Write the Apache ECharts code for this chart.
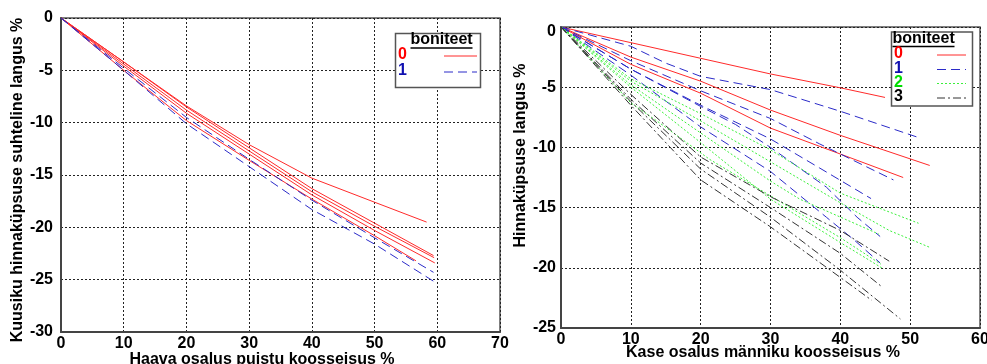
<!DOCTYPE html>
<html><head><meta charset="utf-8">
<script src="https://cdn.jsdelivr.net/npm/echarts@6/dist/echarts.min.js"></script>
<style>html,body{margin:0;padding:0;background:#fff}#c{width:987px;height:364px}</style>
</head><body><div id="c"></div>
<script>
// ---- Left chart: Haava osalus (x) vs Kuusiku hinnaküpsuse suhteline langus (y)
const leftXTicks = [0,10,20,30,40,50,60,70];
const leftYTicks = [-30,-25,-20,-15,-10,-5,0];
const haavaB0a = [[0,0],[10,-4.2],[20,-8.4],[30,-12.1],[40,-15.3],[50,-17.6],[58.3,-19.5]];
const haavaB0b = [[0,0],[10,-4.2],[20,-8.5],[30,-12.4],[40,-16.3],[50,-19.6],[59.4,-22.7]];
const haavaB0c = [[0,0],[10,-4.4],[20,-8.8],[30,-12.7],[40,-16.6],[50,-19.9],[59.5,-22.9]];
const haavaB0d = [[0,0],[10,-4.6],[20,-9.1],[30,-13.0],[40,-16.9],[50,-20.3],[59.6,-23.4]];
const haavaB0e = [[0,0],[10,-5.0],[20,-9.8],[30,-13.6],[40,-17.3],[50,-20.8],[56.6,-23.2]];
const haavaB1a = [[0,0],[10,-4.8],[20,-9.5],[30,-13.5],[40,-17.4],[50,-21.0],[59.4,-24.3]];
const haavaB1b = [[0,0],[10,-5.0],[20,-10.1],[30,-14.2],[40,-18.3],[50,-21.6],[59.8,-25.3]];

// ---- Right chart: Kase osalus (x) vs Hinnaküpsuse langus (y)
const rightXTicks = [0,10,20,30,40,50,60];
const rightYTicks = [-25,-20,-15,-10,-5,0];
const kaseB0a = [[0,0],[10,-1.3],[20,-2.6],[30,-3.9],[40,-5.05],[46.4,-5.85]];
const kaseB0b = [[0,0],[10,-2.5],[20,-4.5],[30,-6.9],[40,-9.0],[52.8,-11.5]];
const kaseB0c = [[0,0],[10,-3.1],[20,-5.5],[30,-8.4],[40,-10.55],[49.0,-12.5]];
const kaseB1a = [[0,0],[10,-1.6],[15,-3.0],[20,-4.1],[30,-5.2],[40,-7.0],[51.3,-9.2]];
const kaseB1b = [[0,0],[10,-2.8],[20,-5.3],[30,-7.6],[37,-9.7],[47.6,-12.7]];
const kaseB1c = [[0,0],[10,-3.5],[20,-6.5],[30,-9.3],[37,-11.7],[44.4,-14.25]];
const kaseB1d = [[0,0],[10,-3.5],[20,-6.6],[25,-8.1],[30,-10.0],[38,-13.3],[42.4,-15.8],[45.7,-17.4]];
const kaseB1e = [[0,0],[10,-4.0],[20,-8.3],[30,-12.0],[38,-15.8],[42,-17.7],[45.7,-19.6]];
const kaseB2a = [[0,0],[10,-4.3],[20,-7.2],[30,-10.2],[40,-13.8],[51.2,-16.3]];
const kaseB2b = [[0,0],[10,-4.5],[20,-7.8],[30,-11.2],[40,-14.6],[47,-16.9],[52.8,-18.3]];
const kaseB2c = [[0,0],[10,-4.8],[20,-8.8],[30,-12.8],[34.2,-14.3],[45.5,-17.2]];
const kaseB2d = [[0,0],[10,-5.0],[20,-9.6],[30,-14.3],[40,-17.9],[46.2,-20.1]];
const kaseB2e = [[0,0],[10,-6.3],[14.2,-8.0],[21.3,-11.0],[32.8,-15.0],[40,-17.5],[45.8,-19.7]];
const kaseB3a = [[0,0],[10,-5.6],[20,-10.8],[30,-14.1],[40,-16.9],[47.0,-19.45]];
const kaseB3b = [[0,0],[10,-6.0],[20,-11.3],[30,-15.0],[40,-18.8],[46.0,-21.6]];
const kaseB3c = [[0,0],[10,-6.2],[20,-11.8],[30,-15.8],[40,-20.2],[48.6,-24.25]];
const kaseB3d = [[0,0],[10,-6.5],[20,-12.7],[30,-16.6],[40,-20.8],[44.5,-22.7]];

const legendLabels = ['0','1','2','3'];
const legendTitle = 'boniteet';

const COL = {0:'#ff2a2a',1:'#2b2bc8',2:'#3cf03c',3:'#333333'};
const DASH = {0:'solid',1:[9,5],2:[2,2],3:[8,3,2,3]};
const TXT = {0:'#ff0000',1:'#1010b0',2:'#00dd00',3:'#000000'};

function mk(data, b, gi){
  return {type:'line', data:data, xAxisIndex:gi, yAxisIndex:gi, showSymbol:false, symbol:'none',
    silent:true, animation:false,
    lineStyle:{color:COL[b], width:1, type:DASH[b]}};
}
const series = [
  mk(haavaB0a,0,0),mk(haavaB0b,0,0),mk(haavaB0c,0,0),mk(haavaB0d,0,0),mk(haavaB0e,0,0),
  mk(haavaB1a,1,0),mk(haavaB1b,1,0),
  mk(kaseB0a,0,1),mk(kaseB0b,0,1),mk(kaseB0c,0,1),
  mk(kaseB1a,1,1),mk(kaseB1b,1,1),mk(kaseB1c,1,1),mk(kaseB1d,1,1),mk(kaseB1e,1,1),
  mk(kaseB2a,2,1),mk(kaseB2b,2,1),mk(kaseB2c,2,1),mk(kaseB2d,2,1),mk(kaseB2e,2,1),
  mk(kaseB3a,3,1),mk(kaseB3b,3,1),mk(kaseB3c,3,1),mk(kaseB3d,3,1)
];

const FONT = '"Liberation Sans", Arial, sans-serif';
const lblStyle = {color:'#000', fontWeight:'bold', fontSize:16, fontFamily:FONT};
const nameStyle = {color:'#000', fontWeight:'bold', fontSize:16, fontFamily:FONT};
const splitStyle = {show:true, lineStyle:{color:'#222', width:1, type:[2,2]}};
const axLine = {show:true, onZero:false, lineStyle:{color:'#444', width:2}};

function xAx(gi, ticks, name, pad, gap){
  return {type:'value', gridIndex:gi, min:ticks[0], max:ticks[ticks.length-1], interval:ticks[1]-ticks[0],
    axisLine:axLine, axisTick:{show:false}, splitLine:splitStyle,
    axisLabel:Object.assign({margin:4}, lblStyle),
    name:name, nameLocation:'middle', nameGap:gap, nameMoveOverlap:false,
    nameTextStyle:Object.assign({padding:pad}, nameStyle)};
}
function yAx(gi, ticks, name, gap, pad, margin, shiftTop){
  const lab = Object.assign({margin:margin}, lblStyle);
  if (shiftTop) {
    lab.formatter = v => v === 0 ? '{z|0}' : String(v);
    lab.rich = {z:{padding:[10,0,0,0], fontWeight:'bold', fontSize:16, fontFamily:FONT, color:'#000'}};
  }
  return {type:'value', gridIndex:gi, min:ticks[0], max:ticks[ticks.length-1], interval:ticks[1]-ticks[0],
    axisLine:axLine, axisTick:{show:false}, splitLine:splitStyle,
    axisLabel:lab,
    name:name, nameLocation:'middle', nameGap:gap, nameRotate:90, nameTextStyle:Object.assign({padding:pad}, nameStyle)};
}

// legend graphics
function legendBox(x, y, w, h, titleX, titleY, titleAlign, entries, numX, lineX1, lineX2){
  const els = [{type:'rect', shape:{x:x, y:y, width:w, height:h}, style:{fill:'#fff', stroke:'#555', lineWidth:1.5}, z:100}];
  els.push({type:'text', x:titleX, y:titleY, style:{text:legendTitle, fill:'#000', fontSize:16, fontWeight:'bold', fontFamily:FONT, align:titleAlign, verticalAlign:'middle'}, z:101});
  const tw = 62;
  const ux = titleAlign==='center' ? titleX - tw/2 : titleX;
  els.push({type:'line', shape:{x1:ux, y1:titleY+8, x2:ux+tw, y2:titleY+8}, style:{stroke:'#000', lineWidth:1.3}, z:101});
  entries.forEach(e=>{
    els.push({type:'text', x:numX, y:e.y, style:{text:legendLabels[e.b], fill:TXT[e.b], fontSize:16, fontWeight:'bold', fontFamily:FONT, align:'left', verticalAlign:'middle'}, z:101});
    els.push({type:'line', shape:{x1:lineX1, y1:e.y+1, x2:lineX2, y2:e.y+1}, style:{stroke:COL[e.b], lineWidth:1, lineDash: DASH[e.b]==='solid'?null:DASH[e.b]}, z:101});
  });
  return els;
}
const graphics = [].concat(
  legendBox(395.5, 33.5, 85, 54, 441.5, 40, 'center', [{b:0,y:55},{b:1,y:71}], 398, 444, 477),
  legendBox(891.5, 32, 81, 74, 892.5, 38.5, 'left', [{b:0,y:54},{b:1,y:68.5},{b:2,y:82.5},{b:3,y:97}], 894, 937, 966)
);

const chart = echarts.init(document.getElementById('c'), null, {renderer:'canvas'});
chart.setOption({
  animation:false,
  backgroundColor:'#fff',
  grid:[
    {left:61, top:18, width:439, height:314, show:true, borderColor:'#555', borderWidth:1.5, outerBoundsMode:'none', containLabel:false},
    {left:561, top:27, width:419, height:301, show:true, borderColor:'#555', borderWidth:1.5, outerBoundsMode:'none', containLabel:false}
  ],
  xAxis:[ xAx(0, leftXTicks, 'Haava osalus puistu koosseisus %', [0,37,0,0], 20),
          xAx(1, rightXTicks, 'Kase osalus männiku koosseisus %', [0,15,0,0], 17) ],
  yAxis:[ yAx(0, leftYTicks, 'Kuusiku hinnaküpsuse suhteline langus %', 35, [0,10,0,0], 8, false),
          yAx(1, rightYTicks, 'Hinnaküpsuse langus %', 31, [0,0,0,44], 5, true) ],
  series:series,
  graphic:graphics
});
</script></body></html>
